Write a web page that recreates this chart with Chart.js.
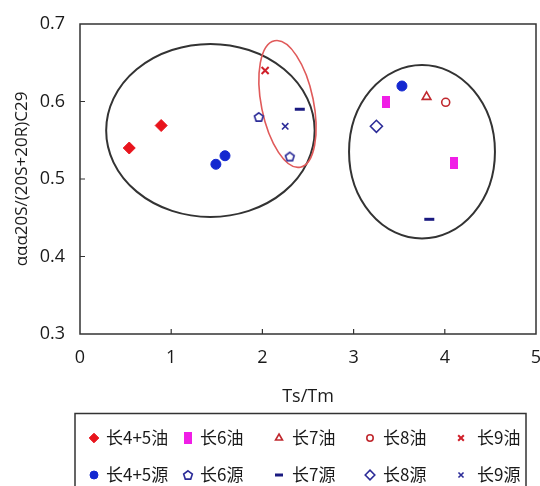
<!DOCTYPE html>
<html>
<head>
<meta charset="utf-8">
<script src="https://cdn.jsdelivr.net/npm/chart.js@4.4.1/dist/chart.umd.min.js"></script>
<style>
    html, body { margin: 0; padding: 0; background: #fff; overflow: hidden; }
    #wrap { width: 540px; height: 486px; overflow: hidden; }
</style>
</head>
<body>
<div id="wrap"><canvas id="ratioChart" width="544" height="486"></canvas></div>
<script>
// series: x = Ts/Tm, y = ααα20S/(20S+20R)C29
const seriesNames = ['长4+5油', '长6油', '长7油', '长8油', '长9油', '长4+5源', '长6源', '长7源', '长8源', '长9源'];
const oil45X = [0.54, 0.89];        const oil45Y = [0.540, 0.569];
const oil6X = [3.36, 4.10];         const oil6Y = [0.600, 0.521];
const oil7X = [3.80];               const oil7Y = [0.606];
const oil8X = [4.01];               const oil8Y = [0.599];
const oil9X = [2.03];               const oil9Y = [0.640];
const src45X = [1.49, 1.59, 3.53];  const src45Y = [0.519, 0.530, 0.620];
const src6X = [1.96, 2.30];         const src6Y = [0.580, 0.529];
const src7X = [2.41, 3.83];         const src7Y = [0.590, 0.448];
const src8X = [3.25];               const src8Y = [0.568];
const src9X = [2.25];               const src9Y = [0.568];

const xTicks = [0, 1, 2, 3, 4, 5];
const yTicks = [0.3, 0.4, 0.5, 0.6, 0.7];

// grouping ellipses: centre (data units), radii (x units, y units), tilt in degrees
const groupCx = [1.43, 3.75, 2.275];
const groupCy = [0.5626, 0.5352, 0.5968];
const groupRx = [1.143, 0.80, 0.286];
const groupRy = [0.1116, 0.1119, 0.0832];
const groupTilt = [0, 0, -11.5];

function pairs(xs, ys) {
    return xs.map((x, i) => ({ x: x, y: ys[i] }));
}

function makeMarker(w, h, draw) {
    const c = document.createElement('canvas');
    c.width = w; c.height = h;
    draw(c.getContext('2d'), w, h);
    return c;
}

const magentaBar = makeMarker(8, 12, (g, w, h) => {
    g.fillStyle = '#f01ee6';
    g.fillRect(0, 0, w, h);
});

const hollowPentagon = makeMarker(12, 12, (g, w, h) => {
    g.strokeStyle = '#2c2c98';
    g.lineWidth = 1.6;
    g.beginPath();
    for (let i = 0; i < 5; i++) {
        const a = -Math.PI / 2 + i * 2 * Math.PI / 5;
        const px = 6 + Math.cos(a) * 4.6, py = 6.4 + Math.sin(a) * 4.6;
        if (i === 0) g.moveTo(px, py); else g.lineTo(px, py);
    }
    g.closePath();
    g.stroke();
});

const seriesData = [
    pairs(oil45X, oil45Y), pairs(oil6X, oil6Y), pairs(oil7X, oil7Y), pairs(oil8X, oil8Y), pairs(oil9X, oil9Y),
    pairs(src45X, src45Y), pairs(src6X, src6Y), pairs(src7X, src7Y), pairs(src8X, src8Y), pairs(src9X, src9Y)
];

const seriesStyles = [
    { pointStyle: 'rectRot', radius: 6, backgroundColor: '#e8141c', borderColor: '#e8141c', borderWidth: 1 },
    { pointStyle: magentaBar, radius: 6, backgroundColor: '#f01ee6', borderColor: '#f01ee6', borderWidth: 0 },
    { pointStyle: 'triangle', radius: 5, backgroundColor: '#ffffff', borderColor: '#c0282e', borderWidth: 1.6 },
    { pointStyle: 'circle', radius: 4, backgroundColor: '#ffffff', borderColor: '#c0282e', borderWidth: 1.6 },
    { pointStyle: 'crossRot', radius: 5, backgroundColor: '#d0202a', borderColor: '#d0202a', borderWidth: 2 },
    { pointStyle: 'circle', radius: 5, backgroundColor: '#1428d0', borderColor: '#1428d0', borderWidth: 1 },
    { pointStyle: hollowPentagon, radius: 6, backgroundColor: '#ffffff', borderColor: '#2c2c98', borderWidth: 0 },
    { pointStyle: 'line', radius: 5, backgroundColor: '#1a1a80', borderColor: '#1a1a80', borderWidth: 3 },
    { pointStyle: 'rectRot', radius: 6, backgroundColor: '#ffffff', borderColor: '#2c2c98', borderWidth: 1.6 },
    { pointStyle: 'crossRot', radius: 4.5, backgroundColor: '#2c2c98', borderColor: '#2c2c98', borderWidth: 1.6 }
];

const datasets = seriesNames.map((name, i) => ({
    label: name,
    data: seriesData[i],
    showLine: false,
    pointStyle: seriesStyles[i].pointStyle,
    pointRadius: seriesStyles[i].radius,
    pointBackgroundColor: seriesStyles[i].backgroundColor,
    pointBorderColor: seriesStyles[i].borderColor,
    pointBorderWidth: seriesStyles[i].borderWidth
}));

const groupEllipses = {
    id: 'groupEllipses',
    beforeDatasetsDraw(chart) {
        const ctx = chart.ctx;
        const xs = chart.scales.x, ys = chart.scales.y;
        ctx.save();
        groupCx.forEach((cx, i) => {
            const px = xs.getPixelForValue(cx);
            const py = ys.getPixelForValue(groupCy[i]);
            const rx = Math.abs(xs.getPixelForValue(cx + groupRx[i]) - px);
            const ry = Math.abs(ys.getPixelForValue(groupCy[i] + groupRy[i]) - py);
            ctx.beginPath();
            ctx.ellipse(px, py, rx, ry, groupTilt[i] * Math.PI / 180, 0, 2 * Math.PI);
            ctx.strokeStyle = i === 2 ? '#e05a5a' : '#333333';
            ctx.lineWidth = i === 2 ? 1.6 : 2;
            ctx.stroke();
        });
        ctx.restore();
    }
};

const frameAndLegend = {
    id: 'frameAndLegend',
    afterDraw(chart) {
        const ctx = chart.ctx;
        const a = chart.chartArea;
        const xs = chart.scales.x, ys = chart.scales.y;
        ctx.save();
        // plot frame
        ctx.strokeStyle = '#333333';
        ctx.lineWidth = 1.5;
        ctx.strokeRect(a.left, a.top, a.right - a.left, a.bottom - a.top);
        // inner tick marks
        ctx.lineWidth = 1.2;
        ctx.beginPath();
        xTicks.slice(1, -1).forEach(v => {
            const p = xs.getPixelForValue(v);
            ctx.moveTo(p, a.bottom);
            ctx.lineTo(p, a.bottom - 5);
        });
        yTicks.slice(1, -1).forEach(v => {
            const p = ys.getPixelForValue(v);
            ctx.moveTo(a.left, p);
            ctx.lineTo(a.left + 5, p);
        });
        ctx.stroke();

        // legend box
        ctx.strokeStyle = '#333333';
        ctx.lineWidth = 1.5;
        ctx.strokeRect(75, 413.5, 451, 90);
        const markX = [94, 188, 279, 370, 461];
        const textX = [106, 200, 292, 383, 477];
        const rowY = [438, 475];
        ctx.font = '17px "Noto Sans CJK SC", "Noto Sans", sans-serif';
        ctx.textBaseline = 'middle';
        ctx.textAlign = 'left';
        seriesNames.forEach((name, i) => {
            const col = i % 5, row = Math.floor(i / 5);
            const st = seriesStyles[i];
            ctx.fillStyle = st.backgroundColor;
            ctx.strokeStyle = st.borderColor;
            ctx.lineWidth = st.borderWidth;
            Chart.helpers.drawPoint(ctx, {
                pointStyle: st.pointStyle,
                radius: st.radius * 0.8,
                borderWidth: st.borderWidth,
                rotation: 0
            }, markX[col], rowY[row]);
            ctx.fillStyle = '#1a1a1a';
            ctx.fillText(name, textX[col], rowY[row]);
        });
        ctx.restore();
    }
};

const ctx = document.getElementById('ratioChart').getContext('2d');
const ratioChart = new Chart(ctx, {
    type: 'scatter',
    data: { datasets: datasets },
    options: {
        responsive: false,
        animation: false,
        layout: { padding: { top: 24, right: 1, left: 0, bottom: 72 } },
        plugins: {
            legend: { display: false },
            tooltip: { enabled: false }
        },
        scales: {
            x: {
                type: 'linear',
                min: xTicks[0],
                max: xTicks[xTicks.length - 1],
                afterBuildTicks: scale => { scale.ticks = xTicks.map(v => ({ value: v })); },
                afterFit: scale => {
                    scale.height = 80;
                    scale.paddingLeft = 0;
                    scale.paddingRight = 0;
                },
                grid: { display: false, drawTicks: false },
                border: { display: false },
                ticks: {
                    padding: 13,
                    color: '#1a1a1a',
                    font: { family: '"Open Sans", sans-serif', size: 18 }
                },
                title: {
                    display: true,
                    text: 'Ts/Tm',
                    color: '#1a1a1a',
                    padding: { top: 6, bottom: 6 },
                    font: { family: '"Open Sans", sans-serif', size: 18 }
                }
            },
            y: {
                type: 'linear',
                min: yTicks[0],
                max: yTicks[yTicks.length - 1],
                afterBuildTicks: scale => { scale.ticks = yTicks.map(v => ({ value: v })); },
                afterFit: scale => {
                    scale.width = 80;
                    scale.paddingTop = 0;
                    scale.paddingBottom = 0;
                },
                grid: { display: false, drawTicks: false },
                border: { display: false },
                ticks: {
                    padding: 15,
                    color: '#1a1a1a',
                    callback: v => v.toFixed(1),
                    font: { family: '"Open Sans", sans-serif', size: 18 }
                },
                title: {
                    display: true,
                    text: 'ααα20S/(20S+20R)C29',
                    color: '#1a1a1a',
                    padding: { top: 12, bottom: 12 },
                    font: { family: '"Open Sans", sans-serif', size: 17 }
                }
            }
        }
    },
    plugins: [groupEllipses, frameAndLegend]
});
</script>
</body>
</html>
